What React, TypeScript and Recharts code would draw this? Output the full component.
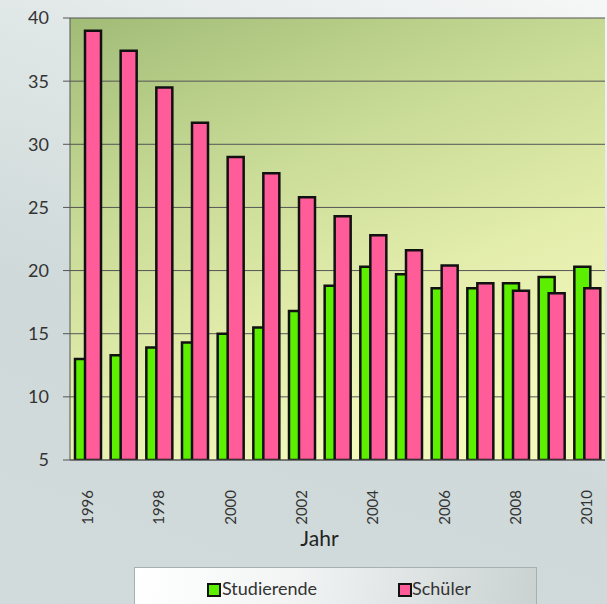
import React from "react"
import { BarChart, Bar, XAxis, YAxis, CartesianGrid, Legend } from "recharts"

const years = ["1996", "1997", "1998", "1999", "2000", "2001", "2002", "2003", "2004", "2005", "2006", "2007", "2008", "2009", "2010"]
const studierende = [13.0, 13.3, 13.9, 14.3, 15.0, 15.5, 16.8, 18.8, 20.3, 19.7, 18.6, 18.6, 19.0, 19.5, 20.3]
const schueler = [39.0, 37.4, 34.5, 31.7, 29.0, 27.7, 25.8, 24.3, 22.8, 21.6, 20.4, 19.0, 18.4, 18.2, 18.6]
const yTicks = [5, 10, 15, 20, 25, 30, 35, 40]

const data = years.map((year, i) => ({ year, studierende: studierende[i], schueler: schueler[i] }))

const FONT = "Lato, 'Open Sans', sans-serif"

function YearTick({ x, y, payload }: any) {
  return (
    <text
      x={x + 5}
      y={y + 30}
      transform={`rotate(-90, ${x + 5}, ${y + 30})`}
      textAnchor="end"
      fontSize={15}
      fontFamily={FONT}
      fill="#333"
    >
      {payload.value}
    </text>
  )
}

function LegendBox() {
  const sq = (color: string) => ({
    position: "absolute" as const,
    width: 10,
    height: 10,
    top: 15,
    background: color,
    border: "2px solid #111",
  })
  const label = {
    position: "absolute" as const,
    top: 9,
    fontSize: 18,
    fontFamily: FONT,
    color: "#333",
    lineHeight: "22px",
  }
  return (
    <div
      style={{
        position: "relative",
        width: 401,
        height: 48,
        border: "1px solid #a5b0b0",
        background: "linear-gradient(100deg, #ffffff 0%, #f2f4f4 40%, #c9d1d1 100%)",
      }}
    >
      <div style={{ ...sq("#5cf000"), left: 72 }} />
      <div style={{ ...label, left: 87 }}>Studierende</div>
      <div style={{ ...sq("#ff5c99"), left: 263 }} />
      <div style={{ ...label, left: 277 }}>Schüler</div>
    </div>
  )
}

export default function App() {
  return (
    <div
      style={{
        position: "absolute",
        left: 0,
        top: 0,
        width: 607,
        height: 604,
        overflow: "hidden",
        background: "linear-gradient(200deg, #f6f7f7 0%, #dfe6e6 30%, #cfd9d9 60%, #d2dbdb 100%)",
      }}
    >
      <BarChart
        width={607}
        height={604}
        data={data}
        margin={{ top: 18, right: 2, left: 0, bottom: 0 }}
        barGap={-6}
      >
        <defs>
          <linearGradient id="plotGrad" x1="0" y1="0" x2="0.45" y2="1">
            <stop offset="0%" stopColor="#a1bc77" />
            <stop offset="40%" stopColor="#c8db96" />
            <stop offset="72%" stopColor="#e2ecab" />
            <stop offset="100%" stopColor="#f3f8bb" />
          </linearGradient>
        </defs>
        <CartesianGrid fill="url(#plotGrad)" vertical={false} stroke="#555" strokeWidth={1} />
        <XAxis
          dataKey="year"
          interval={1}
          height={144}
          tickSize={0}
          tickMargin={0}
          tickLine={false}
          axisLine={{ stroke: "#555" }}
          tick={<YearTick />}
          label={{ value: "Jahr", position: "insideBottom", offset: 58, dx: -18, fontSize: 21, fontFamily: FONT, fill: "#222" }}
        />
        <YAxis
          type="number"
          domain={[5, 40]}
          ticks={yTicks}
          allowDataOverflow
          width={70}
          tickSize={7}
          tickMargin={14}
          stroke="#555"
          tick={{ fontSize: 18, fontFamily: FONT, fill: "#333" }}
        />
        <Legend
          layout="horizontal"
          verticalAlign="middle"
          align="center"
          content={<LegendBox />}
          wrapperStyle={{ left: 134, top: 567, width: 403, height: 50 }}
        />
        <Bar dataKey="studierende" name="Studierende" fill="#5cf000" stroke="#111" strokeWidth={2.5} barSize={16} isAnimationActive={false} />
        <Bar dataKey="schueler" name="Schüler" fill="#ff5c99" stroke="#111" strokeWidth={2.5} barSize={16} isAnimationActive={false} />
      </BarChart>
    </div>
  )
}
